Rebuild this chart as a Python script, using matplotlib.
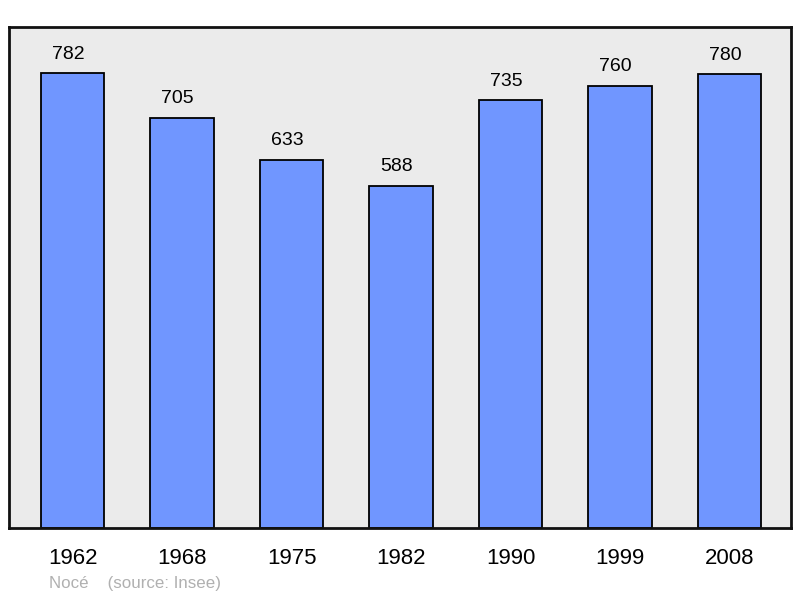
import matplotlib
matplotlib.use("Agg")
import matplotlib.pyplot as plt

years = ["1962", "1968", "1975", "1982", "1990", "1999", "2008"]
population = [782, 705, 633, 588, 735, 760, 780]
source_label = "Nocé    (source: Insee)"

plt.rcParams['font.family'] = ['Liberation Sans', 'DejaVu Sans']

W, H = 800, 598
fig = plt.figure(figsize=(W / 100, H / 100), dpi=100)
ax = fig.add_axes([9 / W, (H - 528) / H, 782 / W, 501 / H])
ax.set_facecolor('#ebebeb')

xs = list(range(len(years)))
ax.bar(xs, population, width=0.58, color='#7096ff', edgecolor='black',
       linewidth=1.3, zorder=2)
for x, v in zip(xs, population):
    ax.annotate(str(v), (x, v), xytext=(-3.2, 10.4), textcoords='offset points',
                ha='center', va='baseline', fontsize=14, color='black')

ax.set_xlim(-0.58, 6.56)
ax.set_ylim(0, 861)
ax.set_xticks(xs)
ax.set_xticklabels(years, fontsize=16)
ax.tick_params(axis='x', length=0, pad=14.5)
ax.set_yticks([])
for s in ax.spines.values():
    s.set_linewidth(2)
    s.set_color('#111111')

fig.text(49 / W, 1 - 588 / H, source_label, fontsize=12.2, color='#b0b0b0',
         ha='left', va='baseline')

fig.savefig("out.png", dpi=100, facecolor='white')
